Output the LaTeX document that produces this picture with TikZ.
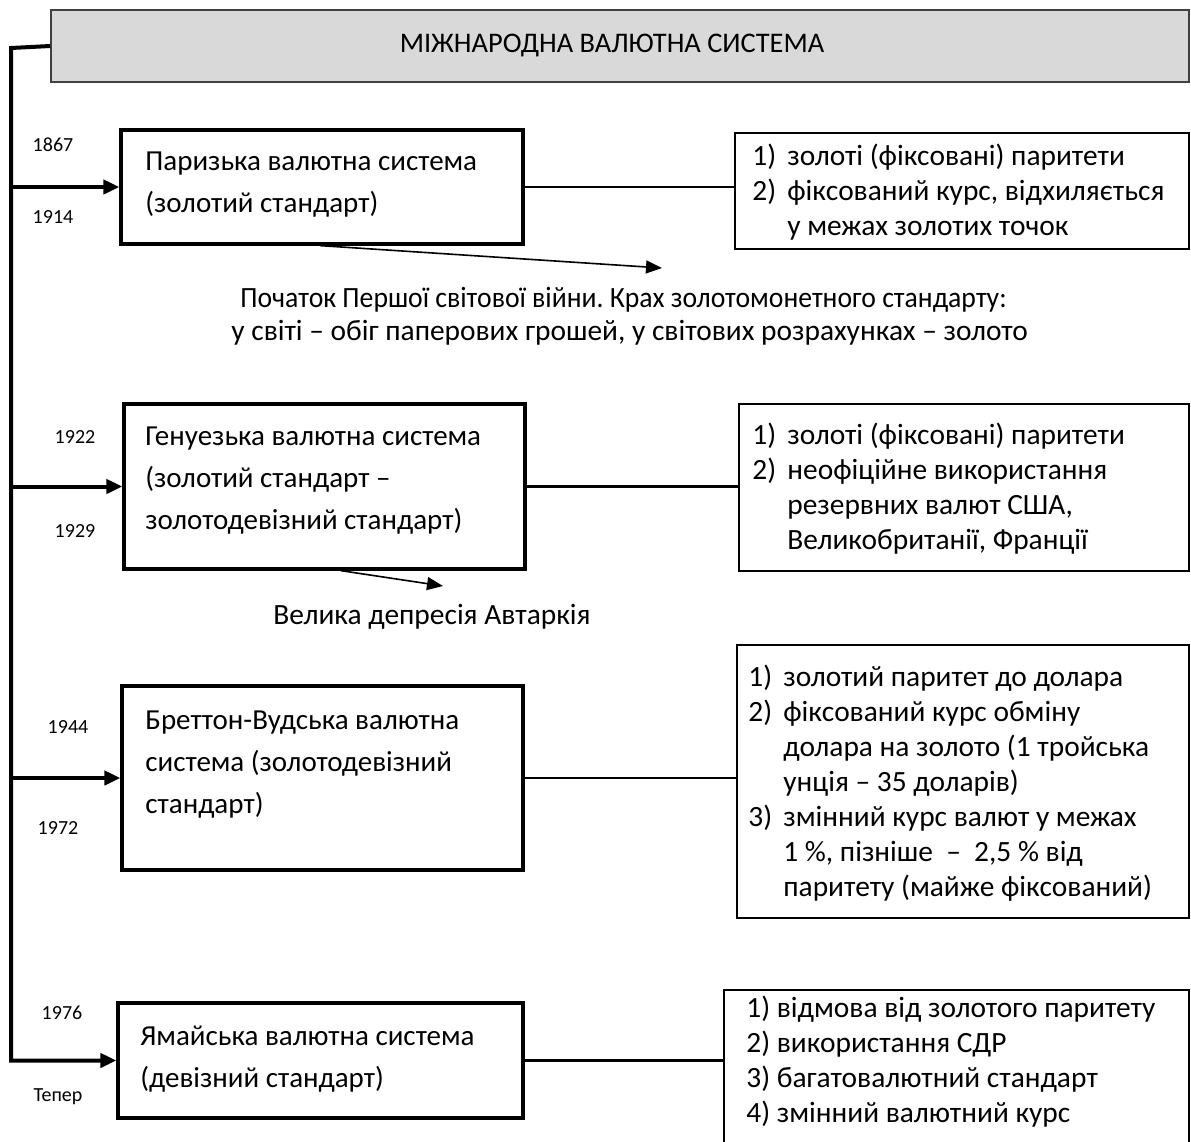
\documentclass[tikz,border=0pt]{standalone}
\usepackage{fontspec}
\setmainfont{Carlito}
\usetikzlibrary{arrows.meta,calc,fit}
\definecolor{titlefill}{HTML}{D9D9D9}
\newcommand\litem[1]{\makebox[17.5pt][l]{#1}}
\newcommand\lind{\hspace*{17.5pt}}
\frenchspacing
\begin{document}
\begin{tikzpicture}[x=0.5pt,y=-0.5pt,
  titlebox/.style={draw=black!75,line width=0.8pt,fill=titlefill,inner sep=0pt},
  mainbox/.style={draw=black,line width=1.6pt,inner sep=0pt},
  listbox/.style={draw=black,line width=1pt,inner sep=0pt},
  btxt/.style={anchor=west,inner sep=0pt,align=left,font=\fontsize{14.5}{21}\selectfont},
  ltxt/.style={anchor=west,inner sep=0pt,align=left,font=\fontsize{14.7}{17.5}\selectfont},
  mtxt/.style={anchor=west,inner sep=0pt,font=\fontsize{14.7}{16}\selectfont},
  year/.style={inner sep=0pt,font=\fontsize{10}{12}\selectfont},
  harrow/.style={line width=2pt,line join=miter,-{Triangle[length=8pt,width=7pt]}},
  link/.style={line width=1.4pt},
  darrow/.style={line width=0.8pt,-{Triangle[length=8pt,width=6.5pt]}},
]
\useasboundingbox (0,0) rectangle (1191,1142);

% title
\node[titlebox,fit={(51,10)(1189,82)}] (title) {};
\node[inner sep=0pt,font=\fontsize{14.2}{16}\selectfont] (titletext) at (612,45) {МІЖНАРОДНА ВАЛЮТНА СИСТЕМА};

% main boxes
\node[mainbox,fit={(121,130)(523,244)}] (b1) {};
\node[mainbox,fit={(124,404)(525,569)}] (b2) {};
\node[mainbox,fit={(122,686)(523,870)}] (b3) {};
\node[mainbox,fit={(118,1003)(523,1118)}] (b4) {};

% list boxes
\node[listbox,fit={(735,133)(1189,249)}] (r1) {};
\node[listbox,fit={(739,404)(1189,571)}] (r2) {};
\node[listbox,fit={(737,645)(1189,918)}] (r3) {};
\node[listbox,fit={(724,990)(1189,1150)}] (r4) {};

% main box texts
\node[btxt] (t1) at (145,185) {Паризька валютна система\\(золотий стандарт)};
\node[btxt] (t2) at (145,481) {Генуезька валютна система\\(золотий стандарт –\\золотодевізний стандарт)};
\node[btxt] (t3) at (145,765) {Бреттон-Вудська валютна\\система (золотодевізний\\стандарт)};
\node[btxt] (t4) at (140,1059) {Ямайська валютна система\\(девізний стандарт)};

% list texts
\node[ltxt] (l1) at (752,192) {\litem{1)}золоті (фіксовані) паритети\\
\litem{2)}фіксований курс, відхиляється\\
\lind у межах золотих точок};
\node[ltxt] (l2) at (752,489) {\litem{1)}золоті (фіксовані) паритети\\
\litem{2)}неофіційне використання\\
\lind резервних валют США,\\
\lind Великобританії, Франції};
\node[ltxt] (l3) at (748,783) {\litem{1)}золотий паритет до долара\\
\litem{2)}фіксований курс обміну\\
\lind долара на золото (1 тройська\\
\lind унція – 35 доларів)\\
\litem{3)}змінний курс валют у межах\\
\lind 1 \%, пізніше \ – \ 2,5 \% від\\
\lind паритету (майже фіксований)};
\node[ltxt] (l4) at (746,1062) {1) відмова від золотого паритету\\
2) використання СДР\\
3) багатовалютний стандарт\\
4) змінний валютний курс};

% event texts
\node[mtxt] (m1) at (240,300) {\scalebox{0.942}[1]{Початок Першої світової війни. Крах золотомонетного стандарту:}};
\node[mtxt] (m2) at (231,333) {у світі – обіг паперових грошей, у світових розрахунках – золото};
\node[mtxt] (m3) at (273,617) {Велика депресія Автаркія};

% years
\node[year] (y1) at (53,145) {1867};
\node[year] (y2) at (53,217) {1914};
\node[year] (y3) at (75,437) {1922};
\node[year] (y4) at (75,531) {1929};
\node[year] (y5) at (68,727) {1944};
\node[year] (y6) at (58,828) {1972};
\node[year] (y7) at (62,1013) {1976};
\node[year] (y8) at (58,1097) {Тепер};

% timeline
\coordinate (top) at (11,48);
\draw[harrow] (title.west) -- (top) -- (top |- b4.west) -- (b4.west);
\draw[harrow] (top |- b1.west) -- (b1.west);
\draw[harrow] (top |- b2.west) -- (b2.west);
\draw[harrow] (top |- b3.west) -- (b3.west);

% links to lists
\draw[link] (b1.east) -- (b1.east -| r1.west);
\draw[link] (b2.east) -- (b2.east -| r2.west);
\draw[link] (b3.east) -- (b3.east -| r3.west);
\draw[link] (b4.east) -- (b4.east -| r4.west);

% event arrows
\coordinate (d1s) at ($(b1.south west)!0.495!(b1.south east)$);
\coordinate (d1e) at (662,268);
\draw[darrow] (d1s) -- (d1e);
\coordinate (d2s) at ($(b2.south west)!0.54!(b2.south east)$);
\coordinate (d2e) at (443,586);
\draw[darrow] (d2s) -- (d2e);
\end{tikzpicture}
\end{document}
